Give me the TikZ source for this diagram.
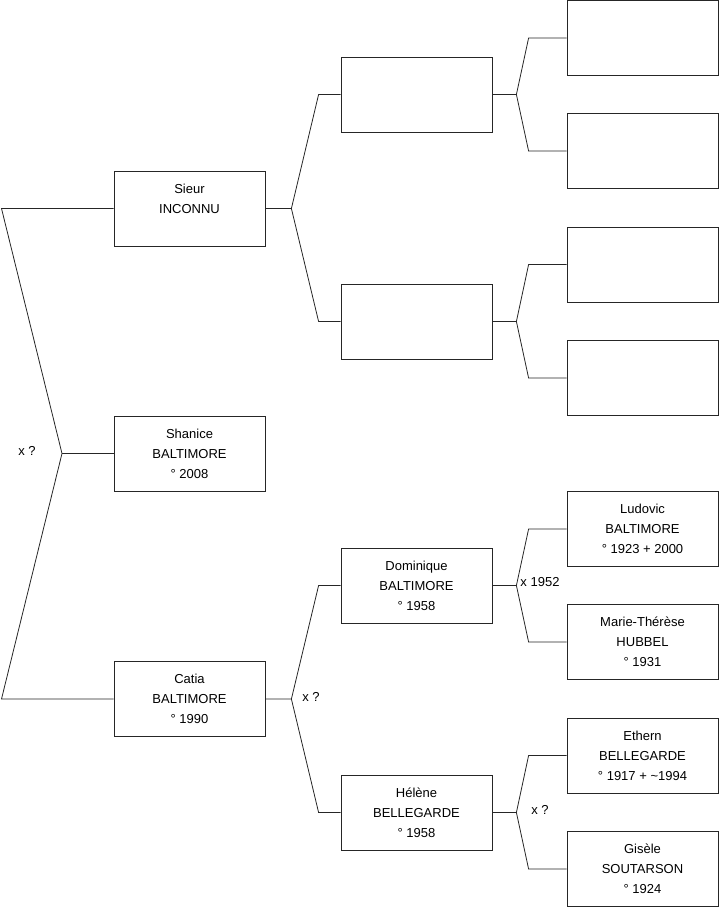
\documentclass[tikz,border=0pt]{standalone}
\usepackage{fontspec}
\setmainfont{Liberation Sans}
\usetikzlibrary{positioning}
\begin{document}
\begin{tikzpicture}[x=1pt,y=-1pt,
  person/.style={draw=black!85,line width=0.8pt,minimum width=151pt,minimum height=75pt,inner sep=0pt,align=center,font=\fontsize{13}{20}\selectfont},
  link/.style={draw=black!85,line width=0.8pt},
  union/.style={font=\fontsize{13}{14}\selectfont,inner sep=0pt}]
  \useasboundingbox (0,0) rectangle (719,908);
  % first generation
  \node[person] (sieur) at (189.5,208.5) {Sieur\\INCONNU\\~};
  \node[person] (shanice) at (189.5,453.5) {Shanice\\BALTIMORE\\° 2008};
  \node[person] (catia) at (189.5,699) {Catia\\BALTIMORE\\° 1990};
  % parents
  \node[person] (pa) at (416.5,94.5) {};
  \node[person] (pb) at (416.5,321.5) {};
  \node[person] (domi) at (416.5,585.5) {Dominique\\BALTIMORE\\° 1958};
  \node[person] (helene) at (416.5,812.5) {Hélène\\BELLEGARDE\\° 1958};
  % grandparents
  \foreach \n/\y in {paa/38,pab/151,pba/264.5,pbb/378}
    \node[person] (\n) at (642.5,\y) {};
  \node[person] (ludo) at (642.5,529) {Ludovic\\BALTIMORE\\° 1923 + 2000};
  \node[person] (marie) at (642.5,642) {Marie-Thérèse\\HUBBEL\\° 1931};
  \node[person] (ethern) at (642.5,755.5) {Ethern\\BELLEGARDE\\° 1917 + \textasciitilde1994};
  \node[person] (gisele) at (642.5,869) {Gisèle\\SOUTARSON\\° 1924};
  % root fork
  \coordinate (r0) at (1.5,208.5);
  \coordinate (rx) at (62,453.5);
  \coordinate (r1) at (1.5,699);
  \draw[link] (sieur.west) -- (r0) -- (rx) -- (r1) -- (catia.west);
  \draw[link] (rx) -- (shanice.west);
  % forks to parents
  \foreach \p/\a/\b/\s/\t in {sieur/pa/pb/26/22,catia/domi/helene/26/22,
      pa/paa/pab/24/38,pb/pba/pbb/24/38,domi/ludo/marie/24/38,helene/ethern/gisele/24/38}
    \draw[link] (\p.east) -- ++(\s,0) coordinate (f) -- ([xshift=-\t pt]\a.west) -- (\a.west)
      (f) -- ([xshift=-\t pt]\b.west) -- (\b.west);
  % unions
  \node[union] (u0) at (27,451) {x ?};
  \node[union] (u1) at (311,697) {x ?};
  \node[union] (u2) at (540,582) {x 1952};
  \node[union] (u3) at (540,810) {x ?};
\end{tikzpicture}
\end{document}
